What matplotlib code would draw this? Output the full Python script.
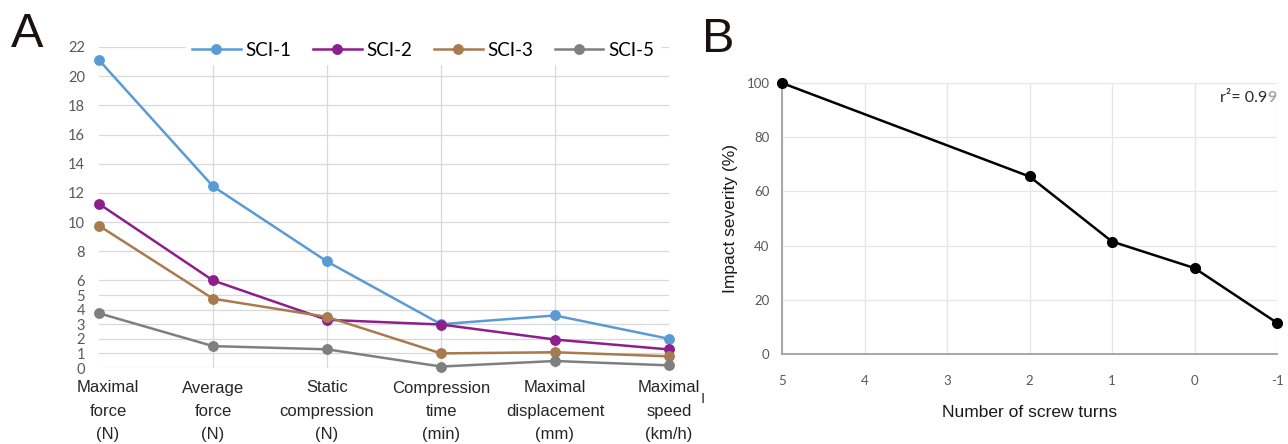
import numpy as np
import matplotlib
matplotlib.use("Agg")
import matplotlib.pyplot as plt
from matplotlib.transforms import ScaledTranslation

# panel A data
categories = ["Maximal\nforce\n(N)", "Average\nforce\n(N)", "Static\ncompression\n(N)",
              "Compression\ntime\n(min)", "Maximal\ndisplacement\n(mm)", "Maximal\nspeed\n(km/h)"]
sci1 = [21.1, 12.45, 7.3, 3.0, 3.6, 2.0]
sci2 = [11.25, 6.0, 3.3, 2.98, 1.95, 1.27]
sci3 = [9.75, 4.75, 3.5, 1.0, 1.08, 0.8]
sci5 = [3.75, 1.5, 1.28, 0.1, 0.48, 0.18]
series_names = ["SCI-1", "SCI-2", "SCI-3", "SCI-5"]
series_colors = ["#5B9BD5", "#8C1F8C", "#A87B4F", "#7F7F7F"]
a_yticks = [0, 1, 2, 3, 4, 5, 6, 8, 10, 12, 14, 16, 18, 20, 22]

# panel B data
turns = [5, 2, 1, 0, -1]
severity = [100, 65.5, 41.5, 31.7, 11.5]
b_xticks = [5, 4, 3, 2, 1, 0, -1]
b_yticks = [0, 20, 40, 60, 80, 100]

W, H = 1288, 444
fig = plt.figure(figsize=(W / 100, H / 100), dpi=100)

grid_c = "#D9D9D9"
tick_c = "#595959"

# ---------- panel A ----------
ax = fig.add_axes([99 / W, 1 - 368 / H, (669 - 99) / W, (368 - 47) / H])
x = np.arange(len(categories))
ax.vlines(x[1:-1], 0, 22, color=grid_c, lw=0.9, zorder=0)
for vals, name, col in zip([sci1, sci2, sci3, sci5], series_names, series_colors):
    ax.plot(x, vals, "-o", color=col, lw=1.8, ms=6.8, label=name, clip_on=False, zorder=3)

ax.set_xlim(0, 5)
ax.set_ylim(0, 22)
ax.set_yticks(a_yticks)
ax.yaxis.grid(True, color=grid_c, lw=0.9)
ax.set_axisbelow(True)
for s in ax.spines.values():
    s.set_visible(False)
ax.tick_params(axis="y", length=0, pad=10, labelsize=10.5, labelcolor=tick_c)
ax.set_xticks(x)
ax.set_xticklabels(categories, fontsize=12, family="Liberation Sans", color="#262626")
ax.tick_params(axis="x", length=0, pad=9)
for lab in ax.get_xticklabels():
    lab.set_linespacing(1.68)
for lab in ax.get_yticklabels():
    lab.set_family("Lato")
# first category label sits a bit to the right in the original
first = ax.get_xticklabels()[0]
first.set_transform(first.get_transform() + ScaledTranslation(9 / 100, 0, fig.dpi_scale_trans))

leg = ax.legend(loc="center", bbox_to_anchor=(423 / W, 1 - 50 / H), bbox_transform=fig.transFigure,
                ncol=4, frameon=True, fancybox=False, framealpha=1, edgecolor="white",
                handlelength=2.6, handletextpad=0.25, columnspacing=1.15, borderpad=0.3,
                prop={"family": "Lato", "size": 13.5})

fig.text(11 / W, 1 - 47 / H, "A", fontsize=35, family="Liberation Sans", color="#1a1210",
         ha="left", va="baseline")

# ---------- panel B ----------
bx = fig.add_axes([782 / W, 1 - 354 / H, (1277 - 782) / W, (354 - 83) / H])
bx.plot(turns, severity, "-o", color="black", lw=1.8, ms=7, clip_on=False, zorder=3)
bx.set_xlim(5, -1)
bx.set_ylim(0, 100)
bx.set_xticks(b_xticks)
bx.set_xticklabels([str(t) for t in b_xticks])
bx.set_yticks(b_yticks)
bx.grid(True, color="#E6E6E6", lw=0.9)
bx.set_axisbelow(True)
for side in ["top", "right"]:
    bx.spines[side].set_visible(False)
for side in ["left", "bottom"]:
    bx.spines[side].set_color("#A6A6A6")
    bx.spines[side].set_linewidth(1.4)
bx.tick_params(axis="both", length=0, labelsize=9.5, labelcolor=tick_c)
bx.tick_params(axis="x", pad=15)
bx.tick_params(axis="y", pad=9)
for lab in bx.get_xticklabels() + bx.get_yticklabels():
    lab.set_family("Lato")
bx.set_xlabel("Number of screw turns", fontsize=12.5, family="Liberation Sans", color="#1a1a1a", labelpad=13)
bx.set_ylabel("Impact severity (%)", fontsize=12.5, family="Liberation Sans", color="#1a1a1a", labelpad=6)

# r² label, last digit in grey, right end on the axes edge
nine = bx.text(1.0, 0.97, "9", transform=bx.transAxes, ha="right", va="top",
               fontsize=11.5, family="Lato", weight="bold", color="#A6A6A6")
fig.canvas.draw()
bb = nine.get_window_extent().transformed(bx.transAxes.inverted())
bx.text(bb.x0, 0.97, "r²= 0.9", transform=bx.transAxes, ha="right", va="top",
        fontsize=11.5, family="Lato", color="#262626")

fig.text(702 / W, 1 - 52 / H, "B", fontsize=35, family="Liberation Sans", color="#1a1210",
         ha="left", va="baseline")
fig.text(703 / W, 1 - 399 / H, "I", fontsize=11, family="Liberation Sans", color="#333333",
         ha="center", va="center")

fig.savefig("out.png", dpi=100)
